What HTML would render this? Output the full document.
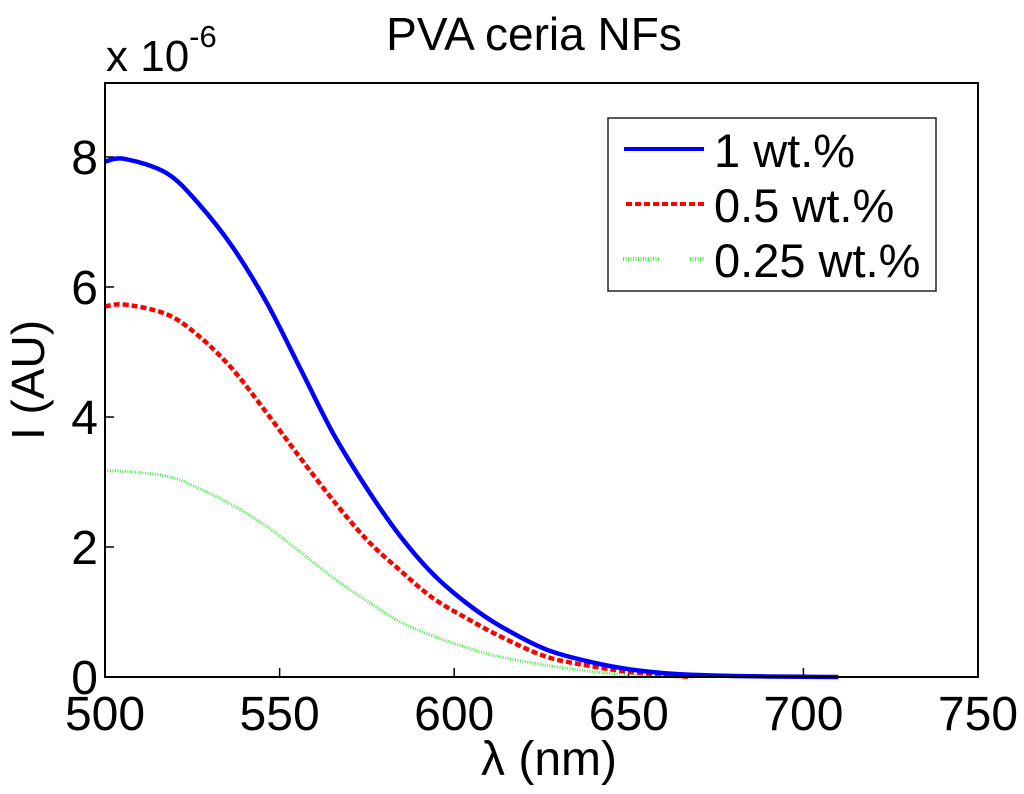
<!DOCTYPE html>
<html><head><meta charset="utf-8"><style>
html,body{margin:0;padding:0;background:#fff;}
svg{display:block;font-family:"Liberation Sans",Arial,sans-serif;}
</style></head><body>
<svg id="chart" width="1024" height="794">
<text x="534" y="50" font-size="46" text-anchor="middle">PVA ceria NFs</text>
<text x="106" y="71" font-size="44">x 10<tspan dy="-24" font-size="31">-6</tspan></text>
<text x="44" y="380" font-size="46" text-anchor="middle" transform="rotate(-90 44 380)">I (AU)</text>
<text x="549" y="775" font-size="48" text-anchor="middle">λ (nm)</text>
<g id="ticks"></g>
<g id="lines"></g>
<rect x="105" y="83" width="873" height="594" fill="none" stroke="#000" stroke-width="2"/>
<g>
<rect x="608" y="118" width="328" height="173" fill="#fff" stroke="#222" stroke-width="1.5"/>
<line x1="624" y1="149" x2="704" y2="149" stroke="#0000ff" stroke-width="4"/>
<text x="714" y="167" font-size="47">1 wt.%</text>
<line x1="626" y1="204" x2="704" y2="204" stroke="#ff0000" stroke-width="4" stroke-dasharray="6,3"/>
<text x="714" y="222" font-size="47">0.5 wt.%</text>
<line x1="623" y1="259" x2="660" y2="259" stroke="#44ee44" stroke-width="4" stroke-dasharray="1,1.5"/>
<line x1="690" y1="259" x2="704" y2="259" stroke="#44ee44" stroke-width="4" stroke-dasharray="1,1.5"/>
<text x="714" y="277" font-size="47">0.25 wt.%</text>
</g>
</svg>
<script>
const xTicks=[500,550,600,650,700,750];
const yTicks=[0,2,4,6,8];
const xBlue=[500,505.7,517.7,527,536.6,546.2,555.8,565.3,575,584.5,594,603.7,613,626.5,640,650,660,670,680,690,700,710];
const yBlue=[7.93,7.97,7.75,7.27,6.61,5.77,4.76,3.75,2.9,2.17,1.58,1.13,0.79,0.42,0.22,0.12,0.06,0.03,0.015,0.008,0.003,0];
const xRed=[500,505.7,517.7,527,536.6,546.2,555.8,565.3,575,584.5,594,603.7,613,626.5,640,650,660,668];
const yRed=[5.7,5.73,5.58,5.24,4.73,4.07,3.38,2.72,2.11,1.64,1.21,0.9,0.63,0.31,0.16,0.08,0.03,0];
const xGreen=[500,504,517.7,527,536.6,546.2,555.8,565.3,575,584.5,594,603.7,613,626.5,640,650,656];
const yGreen=[3.17,3.17,3.09,2.9,2.64,2.32,1.93,1.53,1.17,0.85,0.63,0.45,0.31,0.18,0.08,0.03,0];
const X=v=>105+(v-500)*873/250;
const Y=v=>677-v*65;
const NS='http://www.w3.org/2000/svg';
const tg=document.getElementById('ticks');
xTicks.forEach(t=>{
 const l=document.createElementNS(NS,'line');
 l.setAttribute('x1',X(t));l.setAttribute('x2',X(t));l.setAttribute('y1',677);l.setAttribute('y2',668);
 l.setAttribute('stroke','#000');l.setAttribute('stroke-width','1.5');
 
 
 tg.appendChild(l);
 const tx=document.createElementNS(NS,'text');
 tx.setAttribute('x',X(t));tx.setAttribute('y',730);tx.setAttribute('font-size','48');tx.setAttribute('text-anchor','middle');
 tx.textContent=t;
 
 
 tg.appendChild(tx);
});
yTicks.forEach(t=>{
 const l=document.createElementNS(NS,'line');
 l.setAttribute('x1',105);l.setAttribute('x2',114);l.setAttribute('y1',Y(t));l.setAttribute('y2',Y(t));
 l.setAttribute('stroke','#000');l.setAttribute('stroke-width','1.5');
 
 
 tg.appendChild(l);
 const tx=document.createElementNS(NS,'text');
 tx.setAttribute('x',98);tx.setAttribute('y',Y(t)+17);tx.setAttribute('font-size','48');tx.setAttribute('text-anchor','end');
 tx.textContent=t;
 
 
 tg.appendChild(tx);
});
const lg=document.getElementById('lines');
function smooth(xs,ys){
 const p=xs.map((x,i)=>[X(x),Y(ys[i])]);
 let d='M'+p[0][0]+','+p[0][1];
 for(let i=0;i<p.length-1;i++){
  const p0=p[i-1]||p[i],p1=p[i],p2=p[i+1],p3=p[i+2]||p2;
  const c1=[p1[0]+(p2[0]-p0[0])/6,p1[1]+(p2[1]-p0[1])/6];
  const c2=[p2[0]-(p3[0]-p1[0])/6,p2[1]-(p3[1]-p1[1])/6];
  d+=' C'+c1[0]+','+c1[1]+' '+c2[0]+','+c2[1]+' '+p2[0]+','+p2[1];
 }
 return d;
}
function draw(xs,ys,color,w,dash,name){
 const p=document.createElementNS(NS,'path');
 p.setAttribute('d',smooth(xs,ys));
 p.setAttribute('fill','none');p.setAttribute('stroke',color);p.setAttribute('stroke-width',w);
 if(dash)p.setAttribute('stroke-dasharray',dash);
 
 
 lg.appendChild(p);
}
draw(xGreen,yGreen,'#44ee44',3,'1,1.5','series-025wt');
draw(xRed,yRed,'#ff0000',4.5,'6,3','series-05wt');
draw(xBlue,yBlue,'#0000ff',4.5,null,'series-1wt');
</script>
</body></html>
